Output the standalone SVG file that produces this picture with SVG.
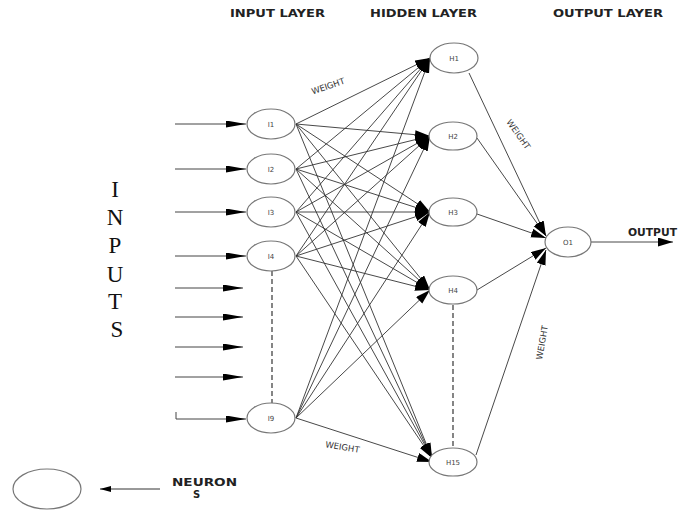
<svg xmlns="http://www.w3.org/2000/svg" width="683" height="510" viewBox="0 0 683 510">
<style>
.node ellipse{fill:#fff;stroke:#777;stroke-width:1.2}
.lbl{font-family:"DejaVu Sans",sans-serif;font-size:7px;fill:#444;text-anchor:middle}
.hdr{font-family:"DejaVu Sans",sans-serif;font-weight:bold;font-size:10px;fill:#222}
.w{font-family:"DejaVu Sans",sans-serif;font-size:8.5px;fill:#333;text-anchor:middle}
.big{font-family:"Liberation Serif",serif;font-size:23px;fill:#111;text-anchor:middle}
.e{stroke:#333;stroke-width:0.9;fill:none;marker-end:url(#ah)}
.in{stroke:#444;stroke-width:1;fill:none;marker-end:url(#ai)}
.d{stroke:#444;stroke-width:1.3;stroke-dasharray:5,3;fill:none}
</style>
<defs>
<marker id="ah" markerUnits="userSpaceOnUse" markerWidth="16" markerHeight="10" refX="15" refY="4.5" orient="auto"><path d="M0,0 L15,4.5 L0,9 z" fill="#000"/></marker>
<marker id="ai" markerUnits="userSpaceOnUse" markerWidth="21" markerHeight="8" refX="20" refY="3.5" orient="auto"><path d="M0,0 L20,3.5 L0,7 z" fill="#000"/></marker>
<marker id="as" markerUnits="userSpaceOnUse" markerWidth="12" markerHeight="7" refX="11" refY="3" orient="auto"><path d="M0,0 L11,3 L0,6 z" fill="#000"/></marker>
</defs>
<rect width="683" height="510" fill="#fff"/>
<text class="hdr" x="230" y="17" textLength="95" lengthAdjust="spacingAndGlyphs">INPUT LAYER</text>
<text class="hdr" x="370" y="17" textLength="107" lengthAdjust="spacingAndGlyphs">HIDDEN LAYER</text>
<text class="hdr" x="553" y="17" textLength="110" lengthAdjust="spacingAndGlyphs">OUTPUT LAYER</text>
<g id="inputs-label">
<text class="big" x="115" y="197">I</text>
<text class="big" x="115" y="225">N</text>
<text class="big" x="115" y="253">P</text>
<text class="big" x="115" y="282">U</text>
<text class="big" x="115" y="309">T</text>
<text class="big" x="117" y="337">S</text>
</g>
<g id="connectors">
<path class="in" d="M175,124 H246"/>
<path class="in" d="M175,169 H246"/>
<path class="in" d="M175,212 H246"/>
<path class="in" d="M175,256 H246"/>
<path class="in" d="M175,288 H243"/>
<path class="in" d="M175,317 H243"/>
<path class="in" d="M175,347 H243"/>
<path class="in" d="M175,377 H243"/>
<path class="in" d="M176,412 V419 H246"/>
<path class="d" d="M272,271 V403"/>
<path class="d" d="M453,305 V448"/>
<path class="e" d="M296,124 L430,58"/><path class="e" d="M296,124 L430,136"/><path class="e" d="M296,124 L430,212"/><path class="e" d="M296,124 L430,290"/><path class="e" d="M296,124 L432,458"/>
<path class="e" d="M296,169 L430,58"/><path class="e" d="M296,169 L430,136"/><path class="e" d="M296,169 L430,212"/><path class="e" d="M296,169 L430,290"/><path class="e" d="M296,169 L432,458"/>
<path class="e" d="M296,212 L430,58"/><path class="e" d="M296,212 L430,136"/><path class="e" d="M296,212 L430,212"/><path class="e" d="M296,212 L430,290"/><path class="e" d="M296,212 L432,458"/>
<path class="e" d="M296,256 L430,58"/><path class="e" d="M296,256 L430,136"/><path class="e" d="M296,256 L430,212"/><path class="e" d="M296,256 L430,290"/><path class="e" d="M296,256 L432,458"/>
<path class="e" d="M296,418 L430,58"/><path class="e" d="M296,418 L430,136"/><path class="e" d="M296,418 L430,212"/><path class="e" d="M296,418 L430,290"/><path class="e" d="M296,418 L432,462"/>
<path class="e" d="M469,73 L546,236"/>
<path class="e" d="M477,138 L546,236"/>
<path class="e" d="M477,214 L546,238"/>
<path class="e" d="M477,290 L546,248"/>
<path class="e" d="M476,455 L546,250"/>
<path class="e" d="M591,242 L673,242"/>
<path d="M160,489 H100" stroke="#333" stroke-width="1" fill="none" marker-end="url(#as)"/>
</g>
<text class="w" transform="translate(329,89) rotate(-19)">WEIGHT</text>
<text class="w" transform="translate(342,450) rotate(9)">WEIGHT</text>
<text class="w" transform="translate(516,136) rotate(55)">WEIGHT</text>
<text class="w" transform="translate(545,343) rotate(-80)">WEIGHT</text>
<g id="I1" class="node"><ellipse cx="271" cy="124" rx="24" ry="15"/><text class="lbl" x="271" y="127">I1</text></g>
<g id="I2" class="node"><ellipse cx="271" cy="169" rx="24" ry="15"/><text class="lbl" x="271" y="172">I2</text></g>
<g id="I3" class="node"><ellipse cx="271" cy="212" rx="24" ry="15"/><text class="lbl" x="271" y="215">I3</text></g>
<g id="I4" class="node"><ellipse cx="271" cy="256" rx="24" ry="15"/><text class="lbl" x="271" y="259">I4</text></g>
<g id="I9" class="node"><ellipse cx="271" cy="418" rx="24" ry="15"/><text class="lbl" x="271" y="421">I9</text></g>
<g id="H1" class="node"><ellipse cx="454" cy="58" rx="24" ry="15"/><text class="lbl" x="454" y="61">H1</text></g>
<g id="H2" class="node"><ellipse cx="453" cy="136" rx="24" ry="14"/><text class="lbl" x="453" y="139">H2</text></g>
<g id="H3" class="node"><ellipse cx="453" cy="212" rx="24" ry="14"/><text class="lbl" x="453" y="215">H3</text></g>
<g id="H4" class="node"><ellipse cx="453" cy="290" rx="24" ry="14"/><text class="lbl" x="453" y="293">H4</text></g>
<g id="H15" class="node"><ellipse cx="453" cy="462" rx="24" ry="14"/><text class="lbl" x="453" y="465">H15</text></g>
<g id="O1" class="node"><ellipse cx="568" cy="242" rx="23" ry="15"/><text class="lbl" x="568" y="245">O1</text></g>
<text class="hdr" x="628" y="236" font-size="8" textLength="49" lengthAdjust="spacingAndGlyphs">OUTPUT</text>
<g id="legend" class="node"><ellipse cx="47" cy="489" rx="34" ry="20"/></g>
<text class="hdr" x="172" y="486" textLength="65" lengthAdjust="spacingAndGlyphs">NEURON</text>
<text class="hdr" x="193" y="498">S</text>
</svg>
